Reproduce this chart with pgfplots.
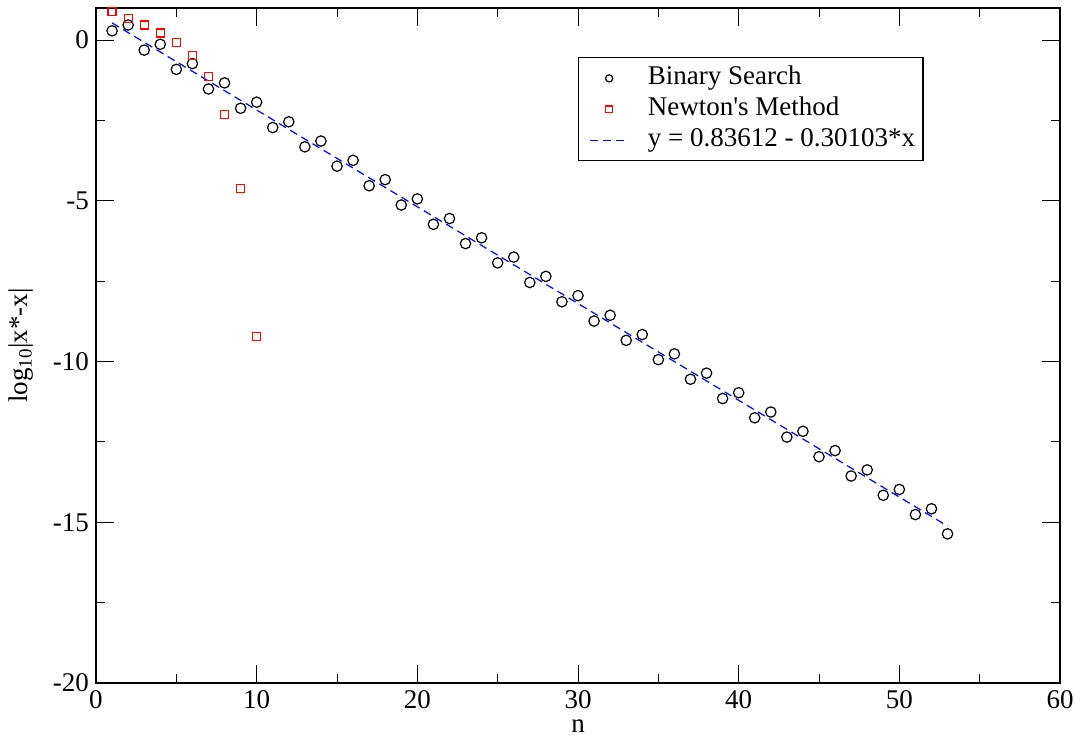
\documentclass[border=0pt]{standalone}
\usepackage{fontspec}
\setmainfont{Liberation Serif}
\usepackage{pgfplots}
\pgfplotsset{compat=1.18}
\pgfplotsset{
  circleg/.style={legend image code/.code={\path (0pt,0pt) (23.5pt,0pt); \draw[##1, mark size=1.8pt] plot coordinates {(14pt,0pt)};}},
  squareleg/.style={legend image code/.code={\path (0pt,0pt) (23.5pt,0pt); \draw[##1, mark size=1.7pt] plot coordinates {(14pt,0pt)};}},
  lineleg/.style={legend image code/.code={\path (0pt,0pt); \draw[##1] (4.5pt,0pt) -- (23.5pt,0pt);}},
}

\begin{document}
\begin{tikzpicture}
\begin{axis}[
  scale only axis, width=482pt, height=337.5pt,
  xmin=0, xmax=60, ymin=-20, ymax=1,
  xtick={0,10,...,60}, ytick={-20,-15,...,0},
  minor x tick num=1, minor y tick num=1,
  tick align=inside, major tick length=9pt, minor tick length=4.5pt,
  every tick/.style={black, line width=0.5pt},
  axis line style={line width=0.8pt},
  /pgf/number format/assume math mode=true,
  ticklabel style={font=\fontsize{13.5}{16}\selectfont},
  label style={font=\fontsize{13.5}{16}\selectfont},
  xlabel={n}, ylabel={log\textsubscript{10}|x*-x|},
  xlabel style={at={(axis description cs:0.5,-0.064)}, anchor=center},
  ylabel style={at={(axis description cs:-0.078,0.5)}, anchor=center},
  legend style={at={(axis description cs:0.5,0.927)}, anchor=north west,
    draw=black, line width=0.6pt, font=\fontsize{13.5}{16}\selectfont,
    inner xsep=1pt, inner ysep=2.5pt, column sep=6.5pt,
    nodes={text height=9.5pt, text depth=3pt, inner ysep=1.5pt, inner xsep=3pt}},
  legend cell align=left,
]
\addplot[only marks, mark=o, mark size=2.6pt, mark options={line width=0.6pt, black}, circleg] coordinates {
(1,0.29) (2,0.47) (3,-0.31) (4,-0.13) (5,-0.91) (6,-0.73) (7,-1.52) (8,-1.33)
(9,-2.12) (10,-1.93) (11,-2.72) (12,-2.54) (13,-3.32) (14,-3.14) (15,-3.92) (16,-3.74)
(17,-4.53) (18,-4.34) (19,-5.13) (20,-4.94) (21,-5.73) (22,-5.55) (23,-6.33) (24,-6.15)
(25,-6.93) (26,-6.75) (27,-7.54) (28,-7.35) (29,-8.14) (30,-7.95) (31,-8.74) (32,-8.56)
(33,-9.34) (34,-9.16) (35,-9.94) (36,-9.76) (37,-10.55) (38,-10.36) (39,-11.15) (40,-10.97)
(41,-11.75) (42,-11.57) (43,-12.35) (44,-12.17) (45,-12.96) (46,-12.77) (47,-13.56) (48,-13.37)
(49,-14.16) (50,-13.98) (51,-14.76) (52,-14.58) (53,-15.36)};
\addlegendentry{Binary Search}
\addplot[only marks, mark=square, mark size=2pt, mark options={line width=0.6pt, red}, squareleg] coordinates {
(1,0.88) (2,0.68) (3,0.47) (4,0.22) (5,-0.08) (6,-0.49) (7,-1.14) (8,-2.31) (9,-4.62) (10,-9.23)};
\addlegendentry{Newton\textquotesingle s Method}
\addplot[blue, line width=0.6pt, dash pattern=on 4pt off 2.5pt, lineleg] coordinates {(1,0.53509) (53,-15.11847)};
\addlegendentry{y = 0.83612 - 0.30103*x}
\end{axis}
\pgfresetboundingbox
\path[use as bounding box] ([xshift=-48pt,yshift=-26.5pt]current axis.south west) rectangle ([xshift=7.5pt,yshift=4pt]current axis.north east);
\end{tikzpicture}
\end{document}
